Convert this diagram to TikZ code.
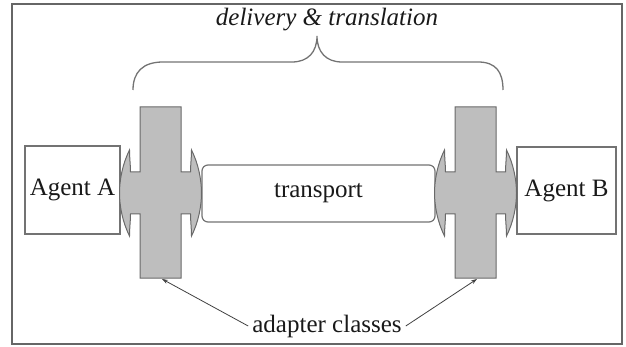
\documentclass[tikz,border=0pt]{standalone}
\usepackage{fontspec}
\setmainfont{LiberationSerif}[Extension=.ttf, UprightFont=*-Regular, ItalicFont=*-Italic, BoldFont=*-Bold, BoldItalicFont=*-BoldItalic]
\usetikzlibrary{arrows.meta}
\definecolor{adfill}{RGB}{190,190,190}
\definecolor{adline}{RGB}{105,105,105}
\definecolor{boxline}{RGB}{115,115,115}
\newcommand\drawadapter[2]{%
  \draw[adapterstyle] ({#1-20.5},107) -- ({#1-20.5},172) -- ({#1-30},172)
    .. controls ({#1-30},165) and ({#1-31},158) .. ({#1-31},150)
    .. controls ({#1-38},164) and ({#1-41},180) .. ({#1-41},193)
    .. controls ({#1-41},206) and ({#1-38},222) .. ({#1-31},236)
    .. controls ({#1-31},228) and ({#1-30},221) .. ({#1-30},214)
    -- ({#1-20.5},214) -- ({#1-20.5},278) -- ({#1+20.5},278) -- ({#1+20.5},214)
    -- ({#1+30},214)
    .. controls ({#1+30},221) and ({#1+31},228) .. ({#1+31},236)
    .. controls ({#1+38},222) and ({#1+41},206) .. ({#1+41},193)
    .. controls ({#1+41},180) and ({#1+38},164) .. ({#1+31},150)
    .. controls ({#1+31},158) and ({#1+30},165) .. ({#1+30},172)
    -- ({#1+20.5},172) -- ({#1+20.5},107) -- cycle;
  \coordinate (#2) at ({#1+1.5},279);
}
\tikzset{
  adapterstyle/.style={fill=adfill, draw=adline, line width=1pt},
  agentbox/.style={draw=boxline, line width=1.2pt, inner sep=0pt, fill=white},
  lbl/.style={font=\rmfamily\fontsize{25}{30}\selectfont, text=black!90},
  bracestyle/.style={draw=boxline, line width=1.3pt},
  pointer/.style={draw=black!75, line width=0.8pt, -{Stealth[length=6pt,width=4pt]}},
}
\begin{document}
\begin{tikzpicture}[x=1pt,y=-1pt]
\useasboundingbox (0,0) rectangle (626,347);
\draw[draw=black!60, line width=2pt] (12,4) rectangle (622,344);
\node[agentbox, lbl, minimum width=95pt, minimum height=88pt] (A) at (72.5,190) {Agent A};
\node[agentbox, lbl, minimum width=99pt, minimum height=87pt] (B) at (566.5,190.5) {Agent B};
\node[agentbox, lbl, rounded corners=6pt, minimum width=233pt, minimum height=57pt] (T) at (318.5,193.5) {transport};
\drawadapter{160.5}{aL}
\drawadapter{475.5}{aR}
\node[lbl, font=\rmfamily\fontsize{25}{30}\selectfont\itshape] (dt) at (327,20) {delivery \& translation};
\draw[bracestyle] (133,90) .. controls (133,72) and (143,62) .. (163,62) -- (292,62)
  .. controls (308,62) and (317,52) .. (317,36)
  .. controls (317,52) and (326,62) .. (342,62) -- (478,62)
  .. controls (496,62) and (503,72) .. (503,90);
\node[lbl, inner sep=4pt] (ac) at (327,326) {adapter classes};
\draw[pointer] (ac.west) -- (aL);
\draw[pointer] (ac.east) -- (aR);
\end{tikzpicture}
\end{document}
